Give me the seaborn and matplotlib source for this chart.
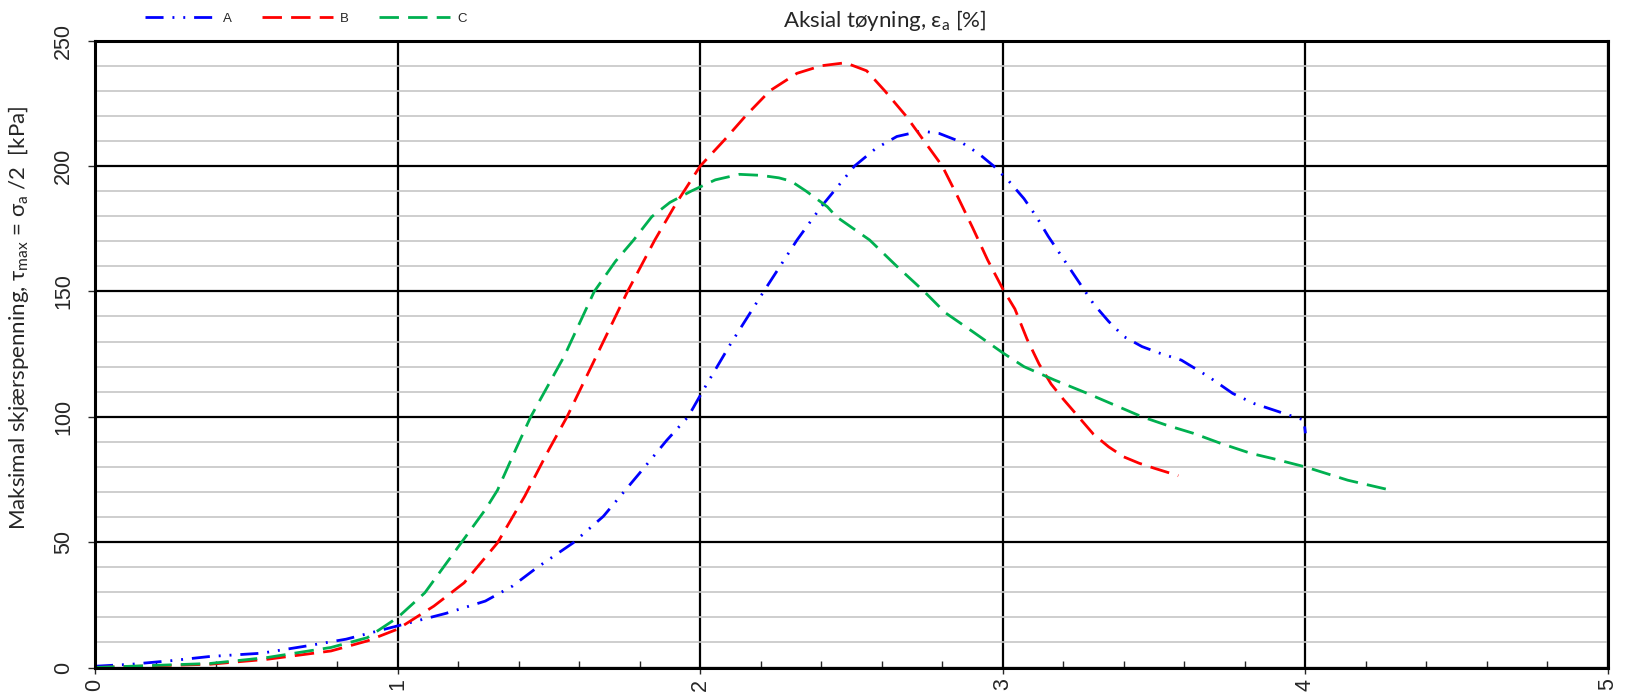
import numpy as np
import pandas as pd
import matplotlib
matplotlib.use("Agg")
import matplotlib.pyplot as plt
import seaborn as sns

# Axial strain [%] and max shear stress [kPa] for three triaxial tests
strain_a = [0.0, 0.12, 0.25, 0.38, 0.55, 0.70, 0.83, 1.0, 1.16, 1.29, 1.38, 1.46, 1.58, 1.68,
            1.81, 1.89, 1.96, 2.01, 2.10, 2.21, 2.32, 2.40, 2.51, 2.58, 2.65, 2.73, 2.79, 2.86,
            2.92, 2.97, 3.02, 3.07, 3.11, 3.15, 3.20, 3.25, 3.30, 3.35, 3.40, 3.46, 3.52, 3.59,
            3.68, 3.76, 3.83, 3.93, 3.995, 4.0]
stress_a = [0.5, 1.3, 2.7, 4.4, 5.7, 8.6, 11.3, 16.6, 21.6, 26.5, 32.5, 39.8, 49.7, 60.3,
            79.0, 90.7, 100.0, 110.6, 129.0, 150.0, 170.5, 183.8, 200.0, 207.0, 211.8, 214.0,
            213.0, 209.7, 205.0, 200.0, 194.0, 187.0, 180.0, 172.0, 163.0, 154.0, 145.0, 138.0,
            132.0, 128.0, 125.3, 122.6, 116.0, 109.3, 105.3, 101.3, 98.7, 93.4]

strain_b = [0.0, 0.38, 0.57, 0.78, 0.90, 1.0, 1.12, 1.22, 1.33, 1.42, 1.50, 1.56, 1.66, 1.76,
            1.85, 1.92, 2.0, 2.08, 2.15, 2.23, 2.32, 2.40, 2.48, 2.55, 2.61, 2.68, 2.74, 2.80,
            2.85, 2.90, 2.95, 3.0, 3.04, 3.08, 3.12, 3.16, 3.20, 3.25, 3.30, 3.35, 3.40, 3.45,
            3.50, 3.58]
stress_b = [0.0, 1.3, 3.3, 6.6, 10.6, 15.3, 24.5, 33.8, 49.7, 68.3, 86.9, 100.0, 125.0, 150.0,
            170.5, 185.0, 200.0, 210.4, 220.0, 230.0, 237.0, 240.0, 241.2, 238.0, 230.0, 220.0,
            210.0, 200.0, 188.0, 175.5, 162.5, 151.0, 143.0, 131.0, 121.0, 113.0, 107.0, 100.0,
            93.0, 88.0, 84.0, 81.5, 79.5, 76.5]

strain_c = [0.0, 0.38, 0.57, 0.78, 0.90, 1.0, 1.09, 1.21, 1.29, 1.33, 1.39, 1.44, 1.55, 1.65,
            1.72, 1.78, 1.84, 1.90, 1.97, 2.05, 2.13, 2.20, 2.26, 2.30, 2.35, 2.42, 2.45, 2.56,
            2.65, 2.74, 2.81, 2.90, 3.0, 3.07, 3.17, 3.28, 3.46, 3.54, 3.63, 3.72, 3.82, 3.89,
            4.0, 4.14, 4.29]
stress_c = [0.0, 1.6, 4.0, 8.0, 11.9, 19.9, 29.8, 49.7, 63.0, 70.7, 86.9, 100.0, 124.0, 150.0,
            162.0, 170.5, 179.8, 185.5, 190.0, 194.5, 196.7, 196.3, 195.3, 194.0, 190.0, 183.8,
            179.8, 170.5, 160.0, 150.0, 141.5, 134.0, 125.5, 120.0, 114.7, 109.3, 100.0, 96.7,
            93.4, 89.4, 85.4, 83.4, 80.0, 74.7, 70.5]

series_names = ["A", "B", "C"]
x_ticks = [0, 1, 2, 3, 4, 5]
y_ticks = [0, 50, 100, 150, 200, 250]

frames = []
for name, xs, ys in zip(series_names, [strain_a, strain_b, strain_c],
                        [stress_a, stress_b, stress_c]):
    frames.append(pd.DataFrame({"strain": xs, "stress": ys, "test": name}))
df = pd.concat(frames, ignore_index=True)

sns.set_style("white")
plt.rcParams["font.family"] = ["Liberation Sans", "DejaVu Sans"]
plt.rcParams["mathtext.fontset"] = "custom"
plt.rcParams["mathtext.rm"] = "Lato"
plt.rcParams["mathtext.it"] = "Lato:italic"
plt.rcParams["mathtext.bf"] = "Lato:bold"

fig = plt.figure(figsize=(16.35, 6.96), dpi=100)
ax = fig.add_axes([95 / 1635, 1 - 667.5 / 696, (1608 - 95) / 1635, (667.5 - 40.7) / 696])

styles = {
    "A": dict(color="#0000FF", linestyle=(0, (6.5, 3.2, 0.7, 3.2, 0.7, 3.2))),
    "B": dict(color="#FF0000", linestyle=(0, (7, 3.3))),
    "C": dict(color="#00B050", linestyle=(0, (7, 3.3))),
}
handles = []
for name in series_names:
    sub = df[df["test"] == name]
    sns.lineplot(data=sub, x="strain", y="stress", ax=ax, estimator=None, sort=False,
                 lw=2.0, label=name, legend=False, **styles[name])
    handles.append(ax.lines[-1])

ax.set_xlim(0, 5)
ax.set_ylim(0, 250)
ax.set_xticks(x_ticks)
ax.set_xticks(np.arange(0, 5.001, 0.2), minor=True)
ax.set_yticks(y_ticks)
ax.set_yticks(np.arange(0, 251, 10), minor=True)

ax.set_axisbelow(True)
ax.grid(which="major", color="black", lw=1.6)
ax.grid(which="minor", axis="y", color="#c6c6c6", lw=1.2)
ax.grid(which="minor", axis="x", visible=False)

ax.tick_params(axis="x", which="major", direction="out", length=4, width=1,
               labelrotation=90, labelsize=15.5, pad=4, bottom=True)
ax.tick_params(axis="x", which="minor", direction="in", length=5, width=1, bottom=True)
ax.tick_params(axis="y", which="major", direction="out", length=5, width=1,
               labelrotation=90, labelsize=15.5, pad=10, left=True)
ax.tick_params(axis="y", which="minor", length=0)
for lab in ax.get_yticklabels():
    lab.set_va("center")

for sp in ax.spines.values():
    sp.set_color("black")
    sp.set_linewidth(2.2)

label_font = ["Lato", "DejaVu Sans"]
ax.xaxis.set_label_position("top")
ax.set_xlabel("Aksial tøyning, ε$_{\\mathrm{a}}$ [%]", fontsize=16, family=label_font)
ax.xaxis.set_label_coords(0.522, 1.012)
ax.xaxis.label.set_va("bottom")
ax.set_ylabel("Maksimal skjærspenning, τ$_{\\mathrm{max}}$ = σ$_{\\mathrm{a}}$ /2  [kPa]",
              fontsize=16, family=label_font)
ax.yaxis.set_label_coords(-0.042, 0.558)

fig.legend(handles=handles, labels=series_names, loc="center left",
           bbox_to_anchor=(145 / 1635, 1 - 19 / 696), bbox_transform=fig.transFigure,
           ncol=3, frameon=False, fontsize=9.5, handlelength=5.4, handletextpad=0.5,
           columnspacing=2.3, borderpad=0, borderaxespad=0)

fig.savefig("out.png", dpi=100)
